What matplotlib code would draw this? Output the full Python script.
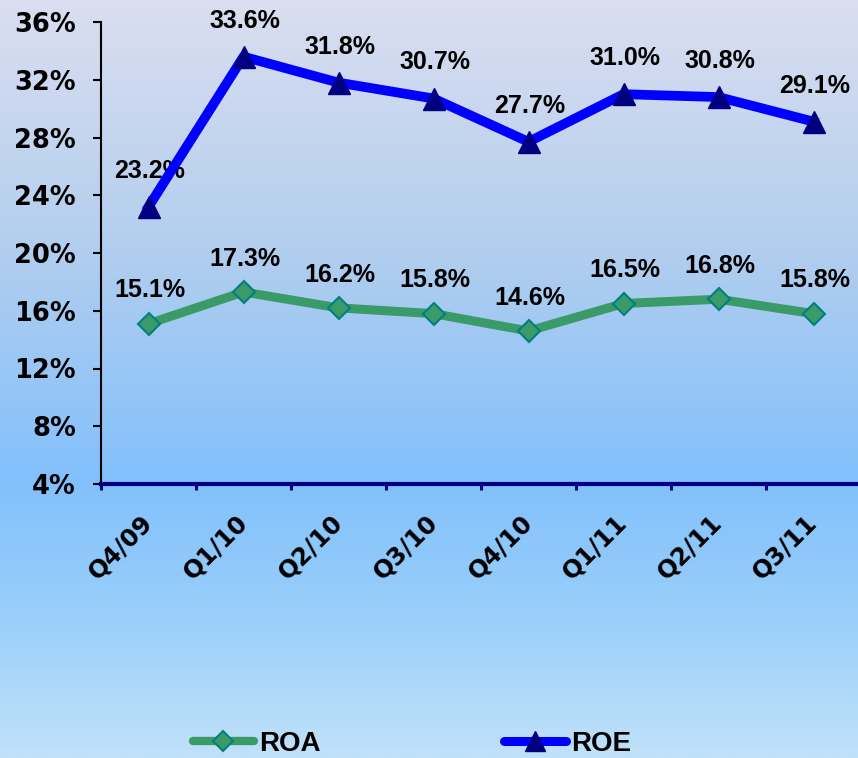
import numpy as np
import matplotlib
matplotlib.use('Agg')
import matplotlib.pyplot as plt
from matplotlib.lines import Line2D

quarters = ['Q4/09', 'Q1/10', 'Q2/10', 'Q3/10', 'Q4/10', 'Q1/11', 'Q2/11', 'Q3/11']
roa = [15.1, 17.3, 16.2, 15.8, 14.6, 16.5, 16.8, 15.8]
roe = [23.2, 33.6, 31.8, 30.7, 27.7, 31.0, 30.8, 29.1]
y_ticks = [4, 8, 12, 16, 20, 24, 28, 32, 36]

green = '#3A9B69'
blue = '#0000FF'
navy = '#000080'

fig = plt.figure(figsize=(8.58, 7.58), dpi=100)

# background gradient (top lavender -> mid blue at the x axis -> light blue at bottom)
bg = fig.add_axes([0, 0, 1, 1], zorder=-1)
rows = np.linspace(0, 758, 400)
stops_y = [0, 250, 480, 600, 758]
stops_c = np.array([[218, 222, 240], [178, 206, 238], [130, 192, 252],
                    [150, 205, 250], [192, 225, 249]]) / 255.0
grad = np.stack([np.interp(rows, stops_y, stops_c[:, k]) for k in range(3)], axis=1)
bg.imshow(grad[:, None, :], aspect='auto', extent=[0, 1, 0, 1])
bg.axis('off')

ax = fig.add_axes([101 / 858, 1 - 484 / 758, 760 / 858, 462 / 758])
ax.set_facecolor('none')

x = np.arange(len(quarters))
ax.plot(x, roa, color=green, lw=6.5, marker='D', ms=11, mfc=green, mec='#00807F',
        mew=1.5, zorder=3)
ax.plot(x, roe, color=blue, lw=7, marker='^', ms=16, mfc=navy, mec=navy, zorder=4)

lbl_font = dict(family='Liberation Sans', weight='bold', size=18)
for xi, v in zip(x, roa):
    ax.annotate(f'{v:.1f}%', (xi, v), xytext=(1, 24), textcoords='offset points',
                ha='center', va='center', **lbl_font)
for xi, v in zip(x, roe):
    ax.annotate(f'{v:.1f}%', (xi, v), xytext=(1, 26), textcoords='offset points',
                ha='center', va='center', **lbl_font)

ax.set_xlim(-0.5, 7.5)
ax.set_ylim(4, 36)
ax.set_yticks(y_ticks)
ax.set_yticklabels([f'{t}%' for t in y_ticks], family='DejaVu Sans', weight='bold',
                   size=18.5)
ax.tick_params(axis='y', length=6, width=1.5, color='black', pad=12)

ax.set_xticks(x)
ax.set_xticklabels(quarters, family='DejaVu Sans', weight='bold', size=17.5,
                   rotation=45, ha='right', va='center', rotation_mode='anchor')
ax.tick_params(axis='x', which='major', length=0, pad=25)
ax.set_xticks(np.arange(-0.5, 8, 1), minor=True)
ax.tick_params(axis='x', which='minor', length=4, width=2.2, color=navy, direction='out')

for s in ['top', 'right']:
    ax.spines[s].set_visible(False)
ax.spines['left'].set_linewidth(1.5)
ax.spines['left'].set_color('black')
ax.spines['bottom'].set_linewidth(3)
ax.spines['bottom'].set_color(navy)

handles = [
    Line2D([], [], color=green, lw=6, marker='D', ms=10, mfc=green, mec='#00807F',
           mew=1.5, solid_capstyle='round'),
    Line2D([], [], color=blue, lw=6.5, marker='^', ms=14, mfc=navy, mec=navy,
           solid_capstyle='round'),
]
fig.legend(handles, ['ROA', 'ROE'], loc='center', bbox_to_anchor=(412 / 858, 1 - 744 / 758),
           ncol=2, frameon=False, numpoints=1, handlelength=2.2, handletextpad=0.2,
           columnspacing=6.6, prop=dict(family='Liberation Sans', weight='bold', size=20))

fig.savefig('out.png', dpi=100)
